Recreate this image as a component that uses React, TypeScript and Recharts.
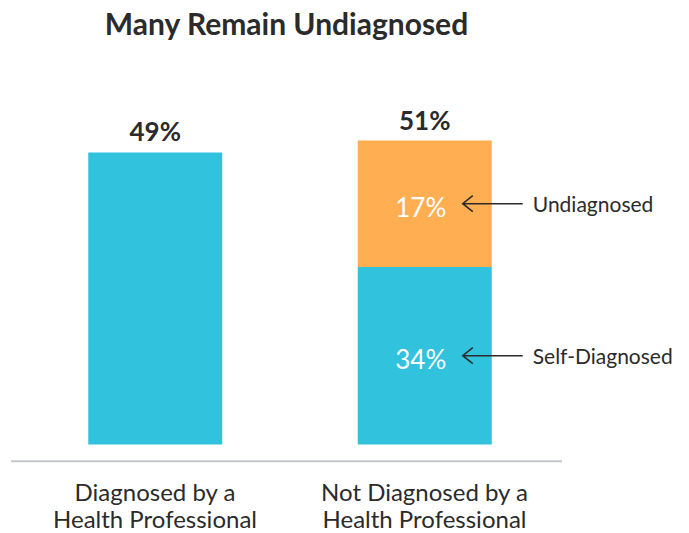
import React from 'react';
import { BarChart, Bar, XAxis, YAxis, LabelList } from 'recharts';

const categories = ['Diagnosed by a Health Professional', 'Not Diagnosed by a Health Professional'];
const diagnosed = [49, 0];
// segment heights as drawn in the source picture (printed labels below)
const selfDiagnosed = [0, 29.8];
const undiagnosed = [0, 21.2];
const totalLabels = ['49%', '51%'];
const selfLabels = ['', '34%'];
const undiagnosedLabels = ['', '17%'];
const seriesNames = ['Self-Diagnosed', 'Undiagnosed'];

const data = categories.map((name, i) => ({
    name,
    diagnosed: diagnosed[i],
    self: selfDiagnosed[i],
    undiagnosed: undiagnosed[i],
    totalA: i === 0 ? totalLabels[i] : '',
    totalB: i === 1 ? totalLabels[i] : '',
    selfLabel: selfLabels[i],
    undiagLabel: undiagnosedLabels[i],
}));

const CYAN = '#31C2DD';
const ORANGE = '#FFAF52';
const TEXT = '#2b2b2b';
const FONT = 'Lato, "Open Sans", sans-serif';

const TotalLabel = (props: any) => {
    const { x, y, width, value } = props;
    if (!value) return null;
    return (
        <text x={Number(x) + Number(width) / 2} y={Number(y) - 11} textAnchor="middle"
            fontSize={26} fontWeight={700} fill={TEXT} fontFamily={FONT}>
            {value}
        </text>
    );
};

const makeSegmentLabel = (name: string) => (props: any) => {
    const { value } = props;
    if (!value) return null;
    const x = Number(props.x), y = Number(props.y), w = Number(props.width), h = Number(props.height);
    const cy = y + h / 2;
    const right = x + w;
    return (
        <g>
            <text x={x + w / 2 - 4} y={cy + 13} textAnchor="middle" fill="#fff" fontSize={26} fontFamily={FONT}>
                {value}
            </text>
            <path
                d={`M${right + 31},${cy} H${right - 29} M${right - 19},${cy - 8} L${right - 29},${cy} L${right - 19},${cy + 8}`}
                stroke={TEXT} strokeWidth={1.6} fill="none"
            />
            <text x={right + 41} y={cy + 8} fontSize={21} fill={TEXT} fontFamily={FONT}>{name}</text>
        </g>
    );
};

const CategoryTick = (props: any) => {
    const { x, y, payload } = props;
    const lines = String(payload.value).replace('by a ', 'by a\n').split('\n');
    return (
        <text x={x} y={y} textAnchor="middle" fontSize={24} fill={TEXT} fontFamily={FONT}>
            {lines.map((l, i) => (
                <tspan key={i} x={x} dy={i === 0 ? 40 : 27}>{l}</tspan>
            ))}
        </text>
    );
};

export default function App() {
    return (
        <div style={{ position: 'absolute', left: 0, top: 0, width: 689, height: 533, background: '#fff' }}>
            <svg width={689} height={50} style={{ position: 'absolute', left: 0, top: 0 }}>
                <text x={286.5} y={35} textAnchor="middle" fontSize={30} fontWeight={700} fill={TEXT} fontFamily={FONT}>
                    Many Remain Undiagnosed
                </text>
            </svg>
            <BarChart
                width={689}
                height={533}
                data={data}
                margin={{ top: 86.9, right: 127, bottom: 11.8, left: 11 }}
                barSize={134}
            >
                <XAxis
                    dataKey="name"
                    height={60}
                    tickLine={false}
                    tickSize={0}
                    tickMargin={0}
                    axisLine={{ stroke: '#C3C7CC', strokeWidth: 2 }}
                    padding={{ left: 9.25, right: 2.75 }}
                    tick={<CategoryTick />}
                    interval={0}
                />
                <YAxis hide domain={[-2.8, 60]} allowDataOverflow />
                <Bar dataKey="diagnosed" stackId="a" fill={CYAN} isAnimationActive={false}>
                    <LabelList dataKey="totalA" content={<TotalLabel />} />
                </Bar>
                <Bar dataKey="self" stackId="a" fill={CYAN} isAnimationActive={false}>
                    <LabelList dataKey="selfLabel" content={makeSegmentLabel(seriesNames[0])} />
                </Bar>
                <Bar dataKey="undiagnosed" stackId="a" fill={ORANGE} isAnimationActive={false}>
                    <LabelList dataKey="undiagLabel" content={makeSegmentLabel(seriesNames[1])} />
                    <LabelList dataKey="totalB" content={<TotalLabel />} />
                </Bar>
            </BarChart>
        </div>
    );
}
